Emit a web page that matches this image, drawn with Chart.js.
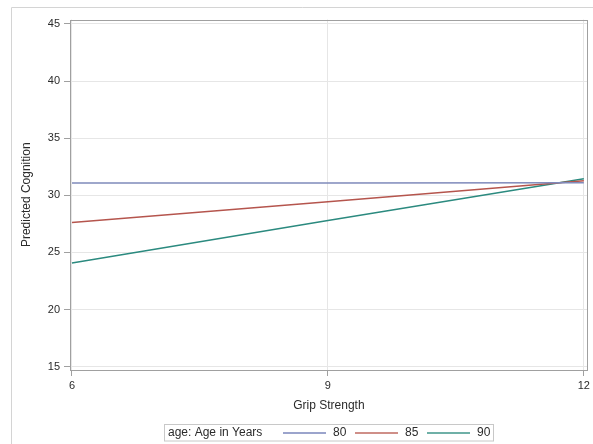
<!DOCTYPE html>
<html>
<head>
<meta charset="utf-8">
<style>
  html, body { margin: 0; padding: 0; background: #fff; }
  #wrap { width: 593px; height: 444px; position: relative; }
</style>
<script src="https://cdn.jsdelivr.net/npm/chart.js@4/dist/chart.umd.min.js"></script>
</head>
<body>
<div id="wrap"><canvas id="c" width="593" height="444"></canvas></div>
<script>
// Grip strength values at which predictions are shown
const gripStrength = [6, 9, 12];
// Predicted cognition for each age group
const age80 = [31.07, 31.08, 31.1];
const age85 = [27.63, 29.44, 31.27];
const age90 = [24.08, 27.8, 31.45];
const seriesLabels = ['80', '85', '90'];
const seriesColors = ['#7f8abb', '#b5554d', '#2b8a7f'];
const legendColors = ['#9ba4cc', '#cf8f88', '#6fb0a7'];
const yTicks = [15, 20, 25, 30, 35, 40, 45];
const xTicks = [6, 9, 12];

const FONT = '"Liberation Sans", Arial, sans-serif';
const TEXT = '#2b2b2b';

function toPoints(vals) {
  return gripStrength.map((g, i) => ({ x: g, y: vals[i] }));
}

const seriesValues = [age80, age85, age90];
const datasets = seriesValues.map((vals, i) => ({
  label: seriesLabels[i],
  data: toPoints(vals),
  borderColor: seriesColors[i],
  backgroundColor: seriesColors[i],
  borderWidth: 1.5,
  pointRadius: 0,
  tension: 0,
  fill: false
}));

// Frame, page border, axis titles and the inline legend
const decor = {
  id: 'decor',
  afterDraw(chart) {
    const ctx = chart.ctx;
    const a = chart.chartArea;
    ctx.save();
    ctx.globalAlpha = 1;
    ctx.setLineDash([]);
    // outer page border
    ctx.strokeStyle = '#d4d4d4';
    ctx.lineWidth = 1;
    ctx.beginPath();
    ctx.moveTo(11.5, 450);
    ctx.lineTo(11.5, 7.5);
    ctx.lineTo(600, 7.5);
    ctx.stroke();
    // plot frame
    ctx.strokeStyle = '#a0a0a0';
    ctx.strokeRect(Math.round(a.left) + 0.5, Math.round(a.top) + 0.5,
      Math.round(a.right - a.left) - 1, Math.round(a.bottom - a.top) - 1);

    // axis titles
    ctx.fillStyle = TEXT;
    ctx.font = '12px ' + FONT;
    ctx.textAlign = 'center';
    ctx.textBaseline = 'middle';
    ctx.fillText('Grip Strength', (a.left + a.right) / 2, 406);
    ctx.save();
    ctx.translate(27, (a.top + a.bottom) / 2);
    ctx.rotate(-Math.PI / 2);
    ctx.fillText('Predicted Cognition', 0, 0);
    ctx.restore();

    // legend
    const lx = 164, ly = 424, lw = 329, lh = 16.5;
    ctx.strokeStyle = '#c8c8c8';
    ctx.lineWidth = 1;
    ctx.strokeRect(lx + 0.5, ly + 0.5, lw, lh);
    const cy = ly + lh / 2 + 0.5;
    ctx.textAlign = 'left';
    ctx.fillStyle = TEXT;
    ctx.fillText('age: Age in Years', 168, cy);
    let x = 283;
    seriesLabels.forEach((lab, i) => {
      ctx.fillStyle = legendColors[i];
      ctx.fillRect(x, Math.round(cy) - 1, 43, 2);
      ctx.fillStyle = TEXT;
      ctx.fillText(lab, x + 50, cy);
      x += 72;
    });
    ctx.restore();
  }
};

new Chart(document.getElementById('c'), {
  type: 'line',
  data: { datasets },
  plugins: [decor],
  options: {
    responsive: false,
    animation: false,
    devicePixelRatio: 1,
    layout: { padding: { left: 0, top: 19.5, right: 4, bottom: 29 } },
    plugins: { legend: { display: false }, tooltip: { enabled: false } },
    scales: {
      x: {
        type: 'linear',
        min: 5.977,
        max: 12.047,
        afterFit(s) { s.height = 45; },
        afterBuildTicks(s) { s.ticks = xTicks.map(v => ({ value: v })); },
        ticks: { font: { size: 11, family: FONT }, color: TEXT, padding: 3, maxRotation: 0 },
        grid: { color: '#e6e6e6', tickColor: '#a0a0a0', tickLength: 6, drawTicks: true },
        border: { display: false }
      },
      y: {
        type: 'linear',
        min: 14.71,
        max: 45.39,
        afterFit(s) { s.width = 70; },
        afterBuildTicks(s) { s.ticks = yTicks.map(v => ({ value: v })); },
        ticks: { font: { size: 11, family: FONT }, color: TEXT, padding: 4 },
        grid: { color: '#e6e6e6', tickColor: '#a0a0a0', tickLength: 6, drawTicks: true },
        border: { display: false }
      }
    }
  }
});
</script>
</body>
</html>
